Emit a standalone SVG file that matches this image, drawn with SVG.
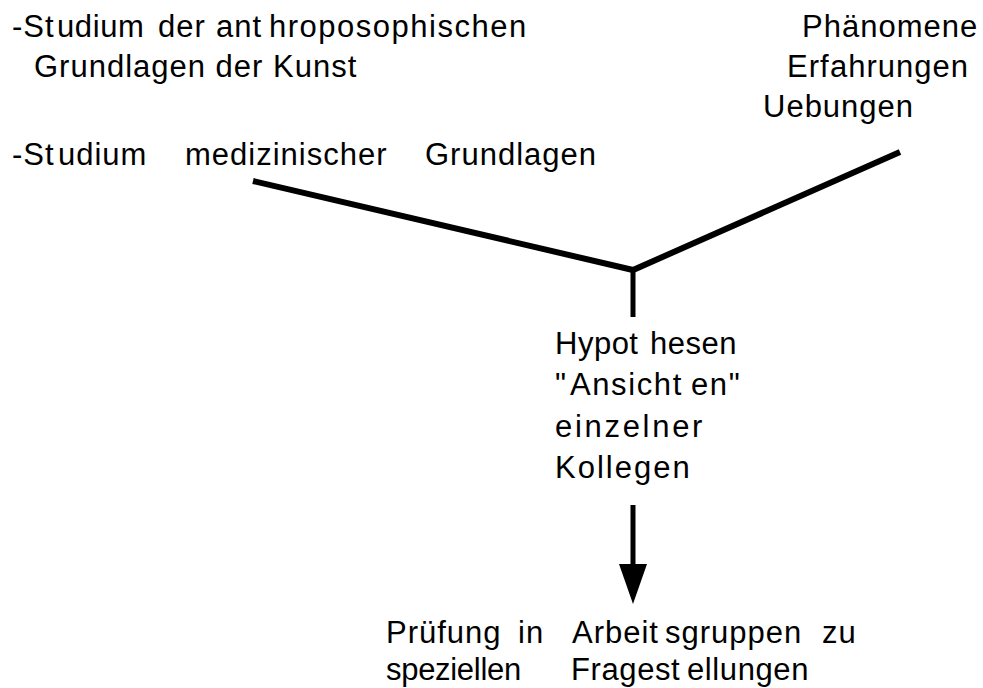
<svg xmlns="http://www.w3.org/2000/svg" width="983" height="688" viewBox="0 0 983 688">
<style>
text{font-family:"Liberation Sans",Arial,sans-serif;font-size:31px;fill:#000;letter-spacing:1px}
.edge{fill:none;stroke:#000;stroke-linecap:butt;stroke-linejoin:miter}
</style>
<defs>
<marker id="ah" markerUnits="userSpaceOnUse" markerWidth="40" markerHeight="28" viewBox="0 0 40 28" refX="0" refY="14" orient="auto">
<path d="M0,0 L40,14 L0,28 z" fill="#000"/>
</marker>
</defs>
<rect width="983" height="688" fill="#fff"/>
<g id="connectors">
<polyline class="edge" points="253,181 633,270 900,152" stroke-width="6"/>
<line class="edge" x1="633" y1="270" x2="633" y2="317" stroke-width="5"/>
<line class="edge" x1="633" y1="505" x2="633" y2="564" stroke-width="5" marker-end="url(#ah)"/>
</g>
<g id="node-anthroposophie">
<text y="37"><tspan x="12">-St</tspan><tspan x="57" style="letter-spacing:0.6px">udium </tspan><tspan x="158">der </tspan><tspan x="216">ant</tspan><tspan x="269" style="letter-spacing:1.5px">hroposophischen</tspan></text>
<text x="34" y="77">Grundlagen der Kunst</text>
</g>
<g id="node-medizin">
<text y="165"><tspan x="12">-St</tspan><tspan x="58">udium </tspan><tspan x="185">medizinischer </tspan><tspan x="425">Grundlagen</tspan></text>
</g>
<g id="node-phaenomene">
<text x="802" y="37">Phänomene</text>
<text y="77"><tspan x="787">Erf</tspan><tspan x="830">ahrungen</tspan></text>
<text x="763" y="117">Uebungen</text>
</g>
<g id="node-hypothesen">
<text y="354" style="letter-spacing:0.5px"><tspan x="555">Hypot</tspan><tspan x="650">hesen</tspan></text>
<text y="395" style="letter-spacing:1.6px"><tspan x="555">"</tspan><tspan x="570">Ansicht</tspan><tspan x="691">en"</tspan></text>
<text x="555" y="437" style="letter-spacing:2.7px">einzelner</text>
<text x="555" y="478" style="letter-spacing:2px">Kollegen</text>
</g>
<g id="node-pruefung">
<text y="643"><tspan x="386">Prüfung </tspan><tspan x="518">in </tspan><tspan x="572">Arbeit</tspan><tspan x="665">sgruppen </tspan><tspan x="822">zu</tspan></text>
<text y="680"><tspan x="386" style="letter-spacing:-0.3px">speziellen </tspan><tspan x="571" style="letter-spacing:0.6px">Fragest</tspan><tspan x="687" style="letter-spacing:0.6px">ellungen</tspan></text>
</g>
</svg>
